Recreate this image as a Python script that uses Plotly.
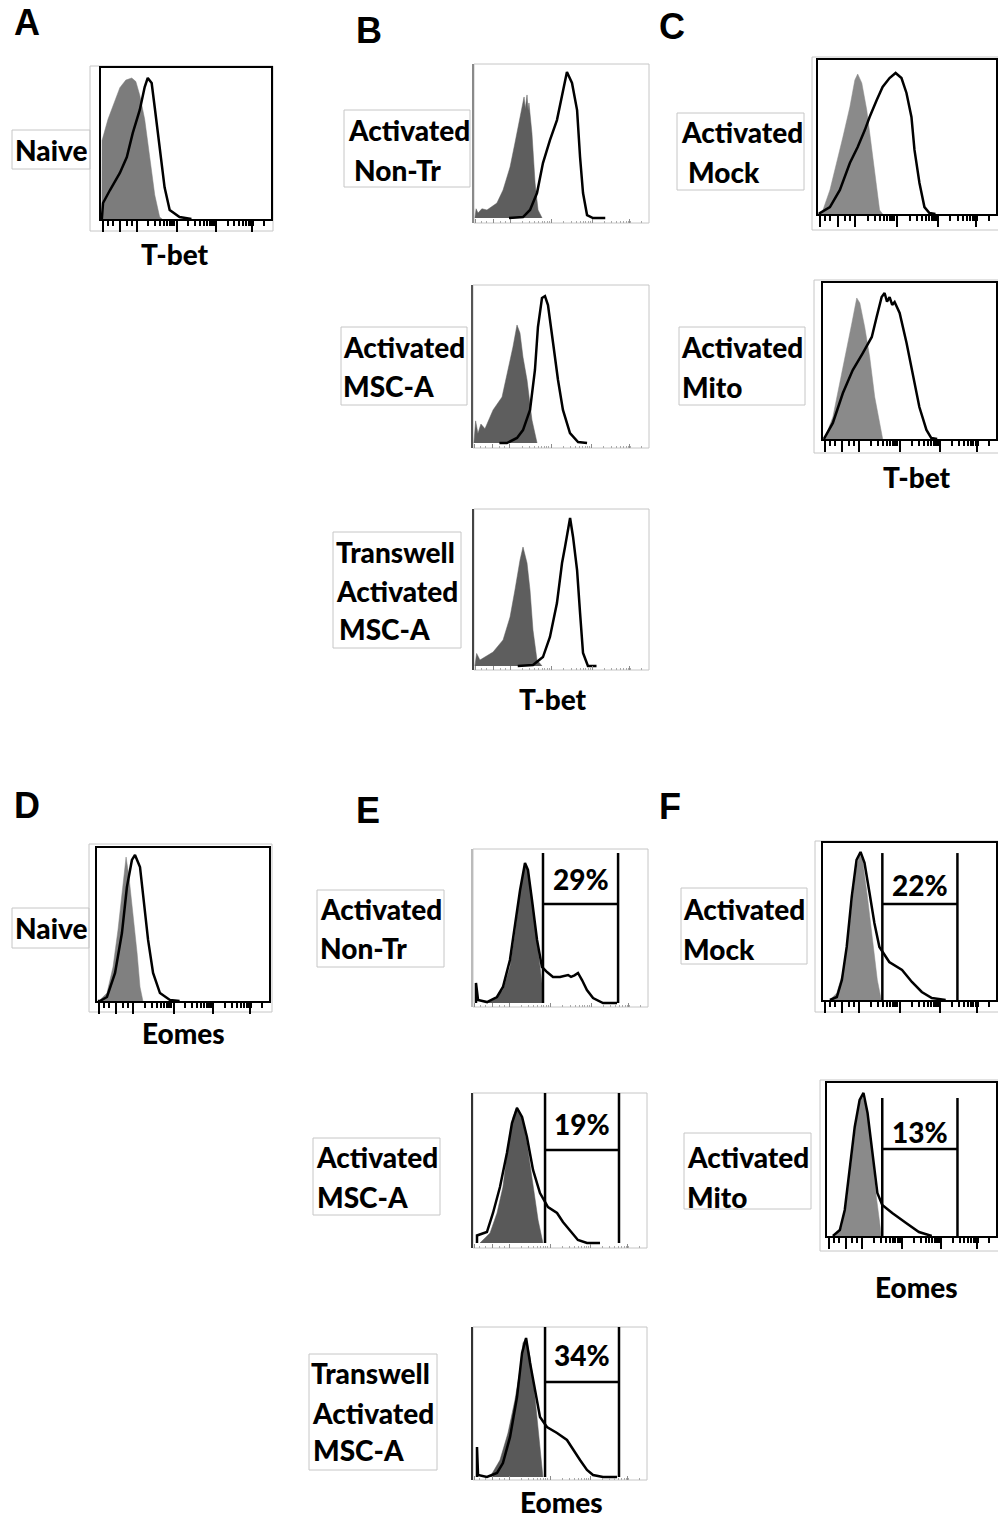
import math
import plotly.graph_objects as go

W, H = 998, 1519

# ---------------- data (x: channel, % of axis width; y: events, % of frame height) ----------------
A_iso_x = [0.5, 0.6, 4.1, 8.2, 11.1, 14.6, 18.1, 20.5, 22.8, 25.7, 28.7, 31.6, 34.5, 36]
A_iso_y = [0, 52, 66, 79, 87, 92, 93.4, 91, 82, 66, 39, 16, 1.3, 0]
A_tbet_x = [0.5, 1.2, 5.3, 11.1, 15.2, 18.7, 22.8, 25.7, 27.5, 29.8, 31.6, 34.5, 37.4, 40.4, 46.2, 53.2]
A_tbet_y = [0, 10.6, 19.2, 30.5, 41, 57, 72.2, 87.4, 93.4, 90, 74, 47.7, 21, 6, 1.3, 0]

B1_iso_x = [0.5, 1.2, 2.3, 4.5, 7.4, 13.1, 16.6, 20.6, 23.4, 26.3, 28.6, 29.3, 30.3, 30.9, 31.4, 33.1, 34.9, 36.6, 38.9]
B1_iso_y = [0, 6, 3.2, 6, 5.2, 9.7, 18.2, 33.1, 48.7, 65.6, 78.6, 71, 79.9, 70, 74.7, 55.2, 22.7, 5.2, 0]
B1_tbet_x = [20, 28, 32, 36, 39.4, 43.4, 47.4, 50.3, 53.1, 56, 58.9, 60.6, 62.3, 64.6, 68, 75]
B1_tbet_y = [0, 0.6, 5.2, 16.2, 35.7, 50.6, 63.6, 78.6, 94.8, 87.7, 70.1, 39.6, 16.2, 1.9, 0, 0]

B2_iso_x = [0.5, 1.5, 2.8, 4.5, 6.8, 9, 11.4, 16.5, 19.9, 22.7, 25, 26.7, 28.4, 30.7, 33.5, 36.4]
B2_iso_y = [0, 14, 6, 12, 9, 15, 20.9, 29.1, 46.2, 60.8, 74.7, 69.6, 54.4, 39.9, 14.6, 0]
B2_tbet_x = [15, 19.3, 25, 28.4, 32.4, 35.2, 36.9, 39.2, 40.9, 42.6, 45.5, 48.3, 51.1, 55.1, 59.7, 64.8]
B2_tbet_y = [0, 0, 3.2, 8.2, 20.9, 46.2, 73.4, 91.8, 93, 87.3, 63.3, 39.9, 20.9, 6.3, 0.6, 0]

B3_iso_x = [0.5, 1.5, 3.4, 10.9, 16.6, 20.6, 23.4, 26.3, 28, 30.3, 32, 33.7, 36, 38.9]
B3_iso_y = [0, 8, 3.8, 8.9, 16.6, 31.2, 48.4, 67.5, 75.8, 65.6, 48.4, 22.9, 3.8, 0]
B3_tbet_x = [25, 33.7, 39.4, 43.4, 47.4, 50.3, 52, 54.9, 56.6, 58.9, 60.6, 62.3, 65.1, 70]
B3_tbet_y = [0, 0.6, 5.7, 18.5, 40.1, 65.6, 75.8, 94.3, 82.2, 61.1, 33.8, 8.3, 0, 0]

C1_iso_x = [0.5, 2.2, 6.7, 10.6, 14, 17.9, 20.7, 22.3, 24.6, 27.4, 30.2, 33, 34.6, 36.3]
C1_iso_y = [0, 0.6, 15.6, 33.1, 50, 69.5, 87, 90.9, 85.1, 67.5, 41.6, 15.6, 2.6, 0]
C1_tbet_x = [0.5, 1.1, 6.7, 12.3, 17.9, 22.3, 26.3, 29, 33, 36.3, 40.2, 43.6, 46.9, 49.7, 52.5, 54.2, 57, 59.8, 62.6, 66]
C1_tbet_y = [0, 0.6, 4.5, 15.6, 33.1, 43.5, 54.5, 63, 74, 82.5, 88.3, 91.6, 88.3, 78.6, 63, 41.6, 20.1, 4.5, 0.6, 0]

C2_iso_x = [0.5, 1.1, 5.7, 9.8, 13.8, 16.7, 19.5, 21.3, 24.1, 27, 29.9, 32.8, 34.5]
C2_iso_y = [0, 0.6, 14.1, 35.9, 57.1, 74.4, 90.4, 87.2, 71.8, 52.6, 26.9, 10.3, 0]
C2_tbet_x = [0.5, 1.1, 5.7, 11.5, 17.2, 23, 28.2, 31, 33.9, 35.6, 37, 38.5, 40, 41.4, 44.3, 48.3, 51.7, 55.7, 59.8, 62.6, 66]
C2_tbet_y = [0, 1.3, 10.3, 29.5, 44.2, 55.1, 65.4, 78.2, 91, 93.6, 88, 91, 86, 87.8, 80.8, 61.5, 42.3, 20.5, 5.8, 0.6, 0]

D_iso_x = [0.5, 1.7, 5.8, 9.3, 12.2, 14.5, 16.9, 18.6, 20.9, 23.3, 25, 26.7]
D_iso_y = [0, 0.7, 5.2, 22.2, 46.4, 70.6, 94.1, 81, 57.5, 31.4, 9.2, 0]
D_eomes_x = [0.5, 1.7, 5.8, 10.5, 14.5, 17.4, 20.3, 22.1, 25, 26.7, 29.7, 32.6, 36.6, 42.4, 48]
D_eomes_y = [0, 0, 2.6, 18.3, 44.4, 74.5, 92.2, 95.4, 87.6, 70.6, 39.9, 18.3, 5.2, 0.7, 0]

E1_iso_x = [8, 11.4, 17.1, 21.1, 24, 26.9, 29.7, 31.4, 34.3, 37.1, 39.4, 40]
E1_iso_y = [0, 1.9, 8.4, 23.4, 45.5, 71.4, 90.9, 86.4, 62.3, 34.4, 13, 0]
E1_eomes_x = [1.7, 1.7, 2.9, 8, 13.7, 17.1, 21.1, 24, 26.9, 29.7, 31.4, 33.7, 36.6, 39.4, 42.3, 45.7, 49.7, 54.3, 56, 58, 60, 62.3, 65.1, 68.6, 74.3, 82.3]
E1_eomes_y = [0, 13, 1.9, 0.6, 3.9, 10.4, 27.9, 49.4, 73.4, 90.9, 86.4, 66.9, 40.9, 23.4, 20.1, 16.9, 16.9, 18.2, 17, 18, 19.5, 14.9, 8.4, 3.2, 0, 0]

E2_iso_x = [4, 9.8, 13.8, 17.2, 20.1, 23, 25.3, 28.2, 31, 34.5, 37.4, 40.2]
E2_iso_y = [0, 6.7, 20, 37.3, 64, 84, 90.7, 84, 66.7, 40, 15.3, 0]
E2_eomes_x = [2.3, 2.3, 8, 11.5, 15.5, 19.5, 22.4, 25.3, 28.2, 31, 34.5, 38.5, 43.1, 48.3, 51.7, 55.7, 60.3, 65.5, 73]
E2_eomes_y = [0, 5, 7.3, 20, 37.3, 60, 80, 90, 84, 70.7, 48.7, 33.3, 24, 20, 14, 8.7, 2, 0, 0]

E3_iso_x = [9.8, 15.5, 20.1, 24.1, 27, 28.7, 30.5, 32.8, 35.6, 38.5, 40.2]
E3_iso_y = [0, 11.3, 29.3, 51.3, 71.3, 89.3, 92.7, 80, 53.3, 20, 0]
E3_eomes_x = [2.3, 2.3, 2.9, 8, 13.8, 17.2, 21.3, 25.3, 28.2, 30.5, 32.8, 35.6, 38.5, 42.5, 48.3, 54, 57.5, 61.5, 65.5, 69, 74.7, 82.8]
E3_eomes_y = [0, 20, 1.3, 0, 2.7, 9.3, 26.7, 53.3, 82.7, 92.7, 76, 58, 40, 33.3, 29.3, 24.7, 18, 11.3, 4.7, 1.3, 0, 0]

F1_iso_x = [4, 8, 11.4, 14.3, 17.1, 19.4, 21.1, 22.9, 25.7, 28.6, 31.4, 33.7]
F1_iso_y = [0, 4.5, 17.2, 38.2, 63.7, 84.7, 92.4, 89.2, 65.6, 38.2, 12.7, 0]
F1_eomes_x = [4, 8, 10.9, 13.7, 16.6, 19.4, 21.7, 24, 26.9, 29.7, 32.6, 38.3, 45.7, 51.4, 57.1, 62.9, 70.9]
F1_eomes_y = [0, 1.9, 12.7, 33.8, 65.6, 89.2, 94.3, 87.3, 68.2, 49, 33.8, 24.2, 19.1, 11.5, 5.1, 1.3, 0]

F2_iso_x = [4.7, 8.8, 11.7, 14.6, 17.5, 20.5, 23.4, 26.3, 29.2, 32.2]
F2_iso_y = [0, 5.9, 23.5, 49.7, 75.8, 92.2, 84.3, 58.2, 25.5, 0]
F2_eomes_x = [3.5, 7.6, 10.5, 13.5, 16.4, 19.3, 21.6, 24, 26.9, 29.8, 32.7, 38.6, 46.8, 54.4, 62]
F2_eomes_y = [0, 3.9, 17, 43.1, 71.2, 88.9, 93.5, 80.4, 54.2, 28.1, 20.3, 15, 8.5, 2.6, 0]

# gates: [low, high], gate top, bar height, percent label, label height
E1_gate = [40, 82.9]; E1_gate_top = 97.4; E1_bar = 64.3; E1_pct = "29%"; E1_pct_y = 80.5
E2_gate = [41.4, 83.9]; E2_gate_top = 100; E2_bar = 62; E2_pct = "19%"; E2_pct_y = 79.5
E3_gate = [41.4, 83.9]; E3_gate_top = 100; E3_bar = 63.3; E3_pct = "34%"; E3_pct_y = 81.5
F1_gate = [34.3, 77.7]; F1_gate_top = 93.6; F1_bar = 61.1; F1_pct = "22%"; F1_pct_y = 73.5
F2_gate = [32.7, 77.2]; F2_gate_top = 90.2; F2_bar = 56.9; F2_pct = "13%"; F2_pct_y = 68

# axis ticks (channel positions of decades)
major_ticks = [1, 11, 21, 44.5, 67.5, 89]
low_minor = [4, 7, 15, 18]
decade_starts = [21, 44.5, 67.5, 89]
decade_width = 23
minor_ticks = low_minor + [d + decade_width * math.log10(k) for d in decade_starts for k in range(2, 10)
                           if d + decade_width * math.log10(k) < 99.5]

panel_letters = ["A", "B", "C", "D", "E", "F"]
axis_titles = ["T-bet", "T-bet", "T-bet", "Eomes", "Eomes", "Eomes"]

# ---------------- layout geometry (pixels) ----------------
panels = [
    dict(iso=(A_iso_x, A_iso_y), stain=(A_tbet_x, A_tbet_y), fill="#7c7c7c", style="black",
         frame=(101, 68, 271, 219), outer=(90, 66, 273, 231), lbox=(12, 130, 90, 169),
         labels=[("Naive", 13, 150)]),
    dict(iso=(B1_iso_x, B1_iso_y), stain=(B1_tbet_x, B1_tbet_y), fill="#5e5e5e", style="light",
         frame=(474, 64, 649, 223), base=218, left="#8a8a8a", lbox=(344, 110, 470, 187),
         labels=[("Activated", 346, 130), ("Non-Tr", 352, 170)]),
    dict(iso=(B2_iso_x, B2_iso_y), stain=(B2_tbet_x, B2_tbet_y), fill="#5e5e5e", style="light",
         frame=(473, 285, 649, 448), base=443, left="#555555", lbox=(341, 327, 467, 405),
         labels=[("Activated", 341, 347), ("MSC-A", 341, 386)]),
    dict(iso=(B3_iso_x, B3_iso_y), stain=(B3_tbet_x, B3_tbet_y), fill="#5e5e5e", style="light",
         frame=(474, 509, 649, 670), base=666, left="#444444", lbox=(333, 532, 461, 648),
         labels=[("Transwell", 334, 552), ("Activated", 334, 591), ("MSC-A", 337, 629)]),
    dict(iso=(C1_iso_x, C1_iso_y), stain=(C1_tbet_x, C1_tbet_y), fill="#8a8a8a", style="black",
         frame=(818, 60, 996, 214), outer=(812, 57, 999, 230), lbox=(677, 113, 804, 190),
         labels=[("Activated", 679, 132), ("Mock", 686, 172)]),
    dict(iso=(C2_iso_x, C2_iso_y), stain=(C2_tbet_x, C2_tbet_y), fill="#8a8a8a", style="black",
         frame=(823, 283, 996, 439), outer=(814, 280, 999, 453), lbox=(679, 327, 805, 405),
         labels=[("Activated", 679, 347), ("Mito", 680, 387)]),
    dict(iso=(D_iso_x, D_iso_y), stain=(D_eomes_x, D_eomes_y), fill="#808080", style="black",
         frame=(97, 848, 269, 1001), outer=(89, 844, 272, 1012), lbox=(12, 908, 89, 948),
         labels=[("Naive", 13, 928)]),
    dict(iso=(E1_iso_x, E1_iso_y), stain=(E1_eomes_x, E1_eomes_y), fill="#595959", style="light",
         frame=(473, 849, 648, 1007), base=1003, left="#bbbbbb", lbox=(317, 890, 444, 967),
         labels=[("Activated", 318, 909), ("Non-Tr", 318, 948)],
         gate=(E1_gate, E1_gate_top, E1_bar, E1_pct, E1_pct_y)),
    dict(iso=(E2_iso_x, E2_iso_y), stain=(E2_eomes_x, E2_eomes_y), fill="#595959", style="light",
         frame=(473, 1093, 647, 1248), base=1243, left="#333333", lbox=(313, 1138, 440, 1215),
         labels=[("Activated", 314, 1157), ("MSC-A", 315, 1197)],
         gate=(E2_gate, E2_gate_top, E2_bar, E2_pct, E2_pct_y)),
    dict(iso=(E3_iso_x, E3_iso_y), stain=(E3_eomes_x, E3_eomes_y), fill="#595959", style="light",
         frame=(473, 1327, 647, 1480), base=1477, left="#333333", lbox=(309, 1354, 437, 1470),
         labels=[("Transwell", 309, 1373), ("Activated", 310, 1413), ("MSC-A", 311, 1450)],
         gate=(E3_gate, E3_gate_top, E3_bar, E3_pct, E3_pct_y)),
    dict(iso=(F1_iso_x, F1_iso_y), stain=(F1_eomes_x, F1_eomes_y), fill="#8a8a8a", style="black",
         frame=(823, 843, 996, 1000), outer=(815, 841, 999, 1012), lbox=(681, 888, 807, 964),
         labels=[("Activated", 681, 909), ("Mock", 681, 949)],
         gate=(F1_gate, F1_gate_top, F1_bar, F1_pct, F1_pct_y)),
    dict(iso=(F2_iso_x, F2_iso_y), stain=(F2_eomes_x, F2_eomes_y), fill="#8a8a8a", style="black",
         frame=(827, 1083, 996, 1236), outer=(820, 1080, 999, 1251), lbox=(684, 1133, 811, 1209),
         labels=[("Activated", 685, 1157), ("Mito", 685, 1197)],
         gate=(F2_gate, F2_gate_top, F2_bar, F2_pct, F2_pct_y)),
]

letter_pos = [(12, 22), (354, 30), (657, 26), (12, 805), (354, 810), (657, 806)]
title_pos = [(175, 254), (553, 699), (917, 477), (183, 1033), (561, 1502), (916, 1287)]

LABEL_FONT = dict(family="Lato, 'Open Sans', sans-serif", size=28, color="black", weight=900)
BOX_COLOR = "#c6c6c6"


def px(xp):
    return xp / W


def py(yp):
    return 1 - yp / H


fig = go.Figure()
layout = {}
shapes = []
annotations = []

for i, p in enumerate(panels, start=1):
    xr, yr = ("x" if i == 1 else f"x{i}"), ("y" if i == 1 else f"y{i}")
    xkey, ykey = ("xaxis" if i == 1 else f"xaxis{i}"), ("yaxis" if i == 1 else f"yaxis{i}")
    L, T, R, B = p["frame"]
    if p["style"] == "black":
        layout[xkey] = dict(domain=[px(L), px(R)], range=[0, 100], anchor=yr, showline=True,
                            linecolor="black", linewidth=2, mirror=True, ticks="outside",
                            tickvals=major_ticks, ticklen=11, tickwidth=2, tickcolor="black",
                            showticklabels=False, showgrid=False, zeroline=False,
                            minor=dict(tickmode="array", tickvals=minor_ticks, ticks="outside",
                                       ticklen=5, tickwidth=1.5, tickcolor="black", showgrid=False))
        layout[ykey] = dict(domain=[py(B), py(T)], range=[0, 100], anchor=xr, showline=True,
                            linecolor="black", linewidth=2, mirror=True, ticks="",
                            showticklabels=False, showgrid=False, zeroline=False)
        oL, oT, oR, oB = p["outer"]
        shapes.append(dict(type="rect", xref="paper", yref="paper", x0=px(oL), x1=px(oR),
                           y0=py(oB), y1=py(oT), line=dict(color=BOX_COLOR, width=1), layer="below"))
    else:
        base = p["base"]
        ymin = -(B - base) / (base - T) * 100
        layout[xkey] = dict(domain=[px(L), px(R)], range=[0, 100], anchor=yr, showline=False,
                            ticks="inside", tickvals=major_ticks, ticklen=4, tickwidth=1,
                            tickcolor="#8c8c8c", showticklabels=False, showgrid=False, zeroline=False,
                            minor=dict(tickmode="array", tickvals=minor_ticks, ticks="inside",
                                       ticklen=2, tickwidth=1, tickcolor="#aaaaaa", showgrid=False))
        layout[ykey] = dict(domain=[py(B), py(T)], range=[ymin, 100], anchor=xr, showline=True,
                            linecolor=p["left"], linewidth=1.5, mirror=False, ticks="",
                            showticklabels=False, showgrid=False, zeroline=False)
        shapes.append(dict(type="rect", xref="paper", yref="paper", x0=px(L), x1=px(R),
                           y0=py(B), y1=py(T), line=dict(color=BOX_COLOR, width=1), layer="below"))

    ix, iy = p["iso"]
    fig.add_trace(go.Scatter(x=ix, y=iy, mode="lines", fill="tozeroy", fillcolor=p["fill"],
                             line=dict(width=0.5, color=p["fill"]), xaxis=xr, yaxis=yr,
                             hoverinfo="skip"))
    sx, sy = p["stain"]
    fig.add_trace(go.Scatter(x=sx, y=sy, mode="lines", line=dict(width=2.5, color="black"),
                             xaxis=xr, yaxis=yr, hoverinfo="skip"))

    if "gate" in p:
        (g0, g1), gtop, gbar, gtxt, gty = p["gate"]
        fig.add_trace(go.Scatter(x=[g0, g0, None, g1, g1, None, g0, g1],
                                 y=[0, gtop, None, 0, gtop, None, gbar, gbar], mode="lines",
                                 line=dict(width=2.5, color="black"), xaxis=xr, yaxis=yr,
                                 hoverinfo="skip"))
        annotations.append(dict(text=gtxt, x=(g0 + g1) / 2, y=gty, xref=xr, yref=yr,
                                showarrow=False, xanchor="center", yanchor="middle",
                                font=dict(family=LABEL_FONT["family"], size=28, color="black", weight=900)))

    lL, lT, lR, lB = p["lbox"]
    shapes.append(dict(type="rect", xref="paper", yref="paper", x0=px(lL), x1=px(lR),
                       y0=py(lB), y1=py(lT), line=dict(color=BOX_COLOR, width=1)))
    for txt, tx, ty in p["labels"]:
        annotations.append(dict(text=txt, x=px(tx), y=py(ty), xref="paper", yref="paper",
                                showarrow=False, xanchor="left", yanchor="middle", font=LABEL_FONT))

for letter, (lx, ly) in zip(panel_letters, letter_pos):
    annotations.append(dict(text=letter, x=px(lx), y=py(ly), xref="paper", yref="paper",
                            showarrow=False, xanchor="left", yanchor="middle",
                            font=dict(family="Liberation Sans, Arial, sans-serif", size=36,
                                      color="black", weight=700)))

for title, (tx, ty) in zip(axis_titles, title_pos):
    annotations.append(dict(text=title, x=px(tx), y=py(ty), xref="paper", yref="paper",
                            showarrow=False, xanchor="center", yanchor="middle", font=LABEL_FONT))

fig.update_layout(width=W, height=H, margin=dict(l=0, r=0, t=0, b=0), showlegend=False,
                  paper_bgcolor="white", plot_bgcolor="rgba(0,0,0,0)",
                  shapes=shapes, annotations=annotations, **layout)

fig.write_html("out.html", config={"displayModeBar": False},
               post_script="document.body.style.margin='0';document.body.style.overflow='hidden';")
